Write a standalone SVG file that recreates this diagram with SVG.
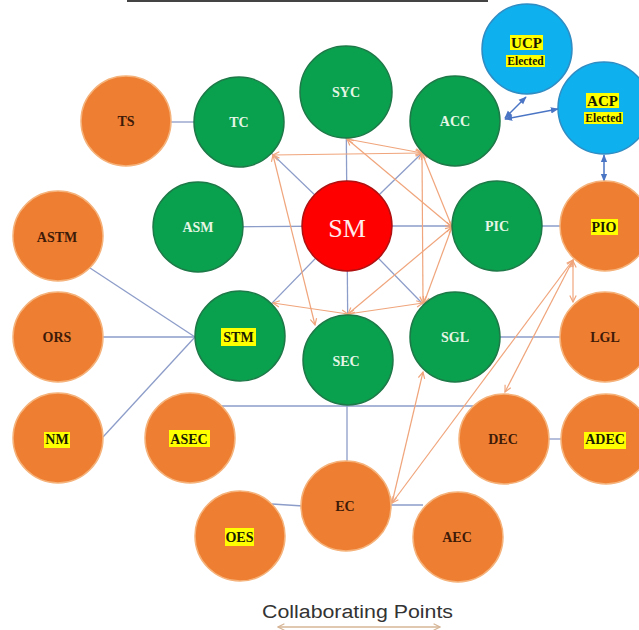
<svg xmlns="http://www.w3.org/2000/svg" width="639" height="630" viewBox="0 0 639 630">
<style>
.g{fill:#0AA14E;stroke:#1D7A48;stroke-width:1.5}
.o{fill:#EE7E31;stroke:#F5B27A;stroke-width:1.5}
.b{fill:#0EB0EE;stroke:#2F8DC4;stroke-width:1.5}
.r{fill:#FF0000;stroke:#B01010;stroke-width:1.5}
text{font-family:"Liberation Serif","Times New Roman",serif;font-weight:bold;font-size:14px;text-anchor:middle}
.tg{fill:#E6F6E6}
.to{fill:#3E1A08}
.th{fill:#1A1A00}
.hl{fill:#FFFF00}
.bl{stroke:#8D9DC9;stroke-width:1.3;fill:none}
.ol{stroke:#F0A57C;stroke-width:1.2;fill:none;marker-start:url(#oa);marker-end:url(#oa)}
.dl{stroke:#4A74C4;stroke-width:1.5;fill:none;marker-start:url(#ba);marker-end:url(#ba)}
</style>
<defs>
<marker id="oa" viewBox="0 0 10 10" refX="9" refY="5" markerWidth="8" markerHeight="8" markerUnits="userSpaceOnUse" orient="auto-start-reverse">
<path d="M1,1 L9,5 L1,9" fill="none" stroke="#F0A57C" stroke-width="1.5"/>
</marker>
<marker id="ba" viewBox="0 0 10 10" refX="9" refY="5" markerWidth="8" markerHeight="8" markerUnits="userSpaceOnUse" orient="auto-start-reverse">
<path d="M0,1 L10,5 L0,9 Z" fill="#4A74C4"/>
</marker>
<marker id="ta" viewBox="0 0 10 10" refX="9" refY="5" markerWidth="8" markerHeight="8" markerUnits="userSpaceOnUse" orient="auto-start-reverse">
<path d="M1,1 L9,5 L1,9" fill="none" stroke="#D6B596" stroke-width="1.5"/>
</marker>
</defs>
<rect width="639" height="630" fill="#FFFFFF"/>
<line x1="127" y1="1" x2="488" y2="1" stroke="#444" stroke-width="2"/>
<g id="connectors">
<line class="bl" x1="170" y1="122" x2="195" y2="122"/>
<line class="bl" x1="239" y1="122" x2="347" y2="226"/>
<line class="bl" x1="455" y1="121" x2="347" y2="226"/>
<line class="bl" x1="346" y1="92" x2="347" y2="226"/>
<line class="bl" x1="198" y1="227" x2="347" y2="226"/>
<line class="bl" x1="347" y1="226" x2="497" y2="226"/>
<line class="bl" x1="347" y1="226" x2="240" y2="336"/>
<line class="bl" x1="347" y1="226" x2="348" y2="360"/>
<line class="bl" x1="347" y1="226" x2="455" y2="337"/>
<line class="bl" x1="497" y1="226" x2="605" y2="226"/>
<line class="bl" x1="455" y1="337" x2="605" y2="337"/>
<line class="bl" x1="90" y1="268" x2="195" y2="337"/>
<line class="bl" x1="103" y1="337" x2="195" y2="337"/>
<line class="bl" x1="103" y1="437" x2="195" y2="337"/>
<line class="bl" x1="222" y1="406" x2="480" y2="406"/>
<line class="bl" x1="347" y1="405" x2="347" y2="462"/>
<line class="bl" x1="272" y1="504" x2="303" y2="506"/>
<line class="bl" x1="390" y1="505" x2="423" y2="505"/>
<line class="bl" x1="548" y1="439" x2="562" y2="439"/>
<line class="dl" x1="505" y1="118" x2="526" y2="97"/>
<line class="dl" x1="505" y1="119" x2="558" y2="109"/>
<line class="dl" x1="604" y1="155" x2="604" y2="181"/>
<line class="ol" x1="273" y1="155" x2="422" y2="153"/>
<line class="ol" x1="347" y1="139" x2="422" y2="153"/>
<line class="ol" x1="347" y1="139" x2="452" y2="227"/>
<line class="ol" x1="273" y1="155" x2="315" y2="325"/>
<line class="ol" x1="422" y1="153" x2="452" y2="227"/>
<line class="ol" x1="422" y1="153" x2="423" y2="303"/>
<line class="ol" x1="452" y1="227" x2="348" y2="314"/>
<line class="ol" x1="452" y1="227" x2="424" y2="303"/>
<line class="ol" x1="273" y1="303" x2="348" y2="314"/>
<line class="ol" x1="348" y1="314" x2="423" y2="303"/>
<line class="ol" x1="573" y1="260" x2="392" y2="503"/>
<line class="ol" x1="573" y1="260" x2="505" y2="392"/>
<line class="ol" x1="573" y1="261" x2="573" y2="302"/>
<line class="ol" x1="392" y1="503" x2="423" y2="372"/>
<line x1="278" y1="627" x2="440" y2="627" stroke="#D6B596" stroke-width="1.3" marker-start="url(#ta)" marker-end="url(#ta)"/>
</g>
<g id="TS"><circle class="o" cx="126" cy="121" r="45"/><text class="to" x="126" y="126">TS</text></g>
<g id="TC"><circle class="g" cx="239" cy="122" r="45"/><text class="tg" x="239" y="127">TC</text></g>
<g id="SYC"><circle class="g" cx="346" cy="92" r="46"/><text class="tg" x="346" y="97">SYC</text></g>
<g id="ACC"><circle class="g" cx="455" cy="121" r="45"/><text class="tg" x="455" y="126">ACC</text></g>
<g id="UCP"><circle class="b" cx="527" cy="49" r="45"/><rect class="hl" x="510" y="35" width="33" height="15"/><rect class="hl" x="506" y="55" width="39" height="12"/><text class="th" x="526.5" y="48" style="font-size:15px">UCP</text><text class="th" x="525.5" y="65" style="font-size:11.5px">Elected</text></g>
<g id="ACP"><circle class="b" cx="604" cy="108" r="46"/><rect class="hl" x="586" y="93" width="33" height="15"/><rect class="hl" x="584" y="112" width="39" height="12"/><text class="th" x="602.5" y="106" style="font-size:15px">ACP</text><text class="th" x="603.5" y="122" style="font-size:11.5px">Elected</text></g>
<g id="ASTM"><circle class="o" cx="58" cy="236" r="45"/><text class="to" x="57" y="242">ASTM</text></g>
<g id="ASM"><circle class="g" cx="198" cy="227" r="45"/><text class="tg" x="198" y="232">ASM</text></g>
<g id="SM"><circle class="r" cx="347" cy="226" r="45"/><text x="347" y="237" style="font-size:26px;font-weight:normal;fill:#FFEDED">SM</text></g>
<g id="PIC"><circle class="g" cx="497" cy="226" r="45"/><text class="tg" x="497" y="231">PIC</text></g>
<g id="PIO"><circle class="o" cx="605" cy="226" r="45"/><rect class="hl" x="591" y="219" width="27" height="16"/><text class="th" x="604" y="232">PIO</text></g>
<g id="ORS"><circle class="o" cx="58" cy="337" r="45"/><text class="to" x="57" y="342">ORS</text></g>
<g id="STM"><circle class="g" cx="240" cy="336" r="45"/><rect class="hl" x="221" y="328" width="35" height="18"/><text class="th" x="238.5" y="342">STM</text></g>
<g id="SEC"><circle class="g" cx="348" cy="360" r="45"/><text class="tg" x="346" y="366">SEC</text></g>
<g id="SGL"><circle class="g" cx="455" cy="337" r="45"/><text class="tg" x="455" y="342">SGL</text></g>
<g id="LGL"><circle class="o" cx="605" cy="337" r="45"/><text class="to" x="605" y="342">LGL</text></g>
<g id="NM"><circle class="o" cx="58" cy="438" r="45"/><rect class="hl" x="44" y="432" width="26" height="16"/><text class="th" x="57" y="444">NM</text></g>
<g id="ASEC"><circle class="o" cx="190" cy="438" r="45"/><rect class="hl" x="169" y="430" width="41" height="17"/><text class="th" x="189" y="444">ASEC</text></g>
<g id="DEC"><circle class="o" cx="504" cy="439" r="45"/><text class="to" x="503" y="444">DEC</text></g>
<g id="ADEC"><circle class="o" cx="606" cy="439" r="45"/><rect class="hl" x="584" y="432" width="42" height="17"/><text class="th" x="605" y="444">ADEC</text></g>
<g id="EC"><circle class="o" cx="346" cy="506" r="45"/><text class="to" x="345" y="511">EC</text></g>
<g id="OES"><circle class="o" cx="240" cy="536" r="45"/><rect class="hl" x="225" y="528" width="29" height="18"/><text class="th" x="239.5" y="542">OES</text></g>
<g id="AEC"><circle class="o" cx="458" cy="537" r="45"/><text class="to" x="457" y="542">AEC</text></g>
<text x="262" y="618" textLength="191" lengthAdjust="spacingAndGlyphs" style="font-family:'Liberation Sans',Arial,sans-serif;font-weight:normal;font-size:18px;text-anchor:start;fill:#333">Collaborating Points</text>
</svg>
